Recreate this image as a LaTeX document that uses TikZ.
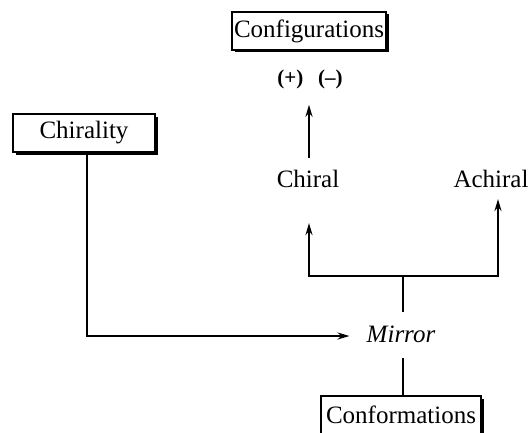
\documentclass[tikz,border=0pt]{standalone}
\usepackage{fontspec}
\setmainfont{Liberation Serif}
\usetikzlibrary{arrows.meta,shadows}

\begin{document}
\begin{tikzpicture}[x=1pt,y=-1pt,line width=2.5pt,
    box/.style={draw,fill=white,line width=2pt,inner sep=2pt,minimum height=38pt,
      font=\fontsize{25}{28}\selectfont,
      drop shadow={shadow xshift=2.5pt,shadow yshift=-2.5pt,fill=black,opacity=1}},
    word/.style={inner sep=0pt,font=\fontsize{25}{28}\selectfont},
    arr/.style={-{Stealth[length=12pt,width=7pt]}}]
      \useasboundingbox (0,0) rectangle (532,433);
      \node[box] (config) at (309,31) {Configurations};
      \node[inner sep=0pt,font=\bfseries\fontsize{21}{23}\selectfont] (signs) at (310,79) {(+)\hspace{0.7em}(--)};
      \node[box,minimum width=142pt] (chirality) at (84,133) {Chirality};
      \node[word] (chiral) at (308,179) {Chiral};
      \node[word] (achiral) at (491,179) {Achiral};
      \node[word,font=\itshape\fontsize{25}{28}\selectfont] (mirror) at (401,334) {Mirror};
      \node[box,inner xsep=5pt] (conf) at (401,415) {Conformations};
      \coordinate (up) at (309,158);
      \coordinate (fork) at (403,276);
      \coordinate (stem) at (403,312);
      \coordinate (foot) at (403,358);
      \coordinate (corner) at (87,336);
      \draw[arr,shorten >=15pt] (up) -- (up |- signs.south);
      \draw (stem) -- (fork);
      \draw[arr] (fork) -| ([xshift=1pt,yshift=-34pt]chiral.south);
      \draw[arr] (fork) -| ([xshift=7pt,yshift=-10pt]achiral.south);
      \draw[arr] (chirality.south -| corner) -- (corner) -- ([xshift=-16pt]mirror.west |- corner);
      \draw (foot) -- (foot |- conf.north);
    \end{tikzpicture}
\end{document}
